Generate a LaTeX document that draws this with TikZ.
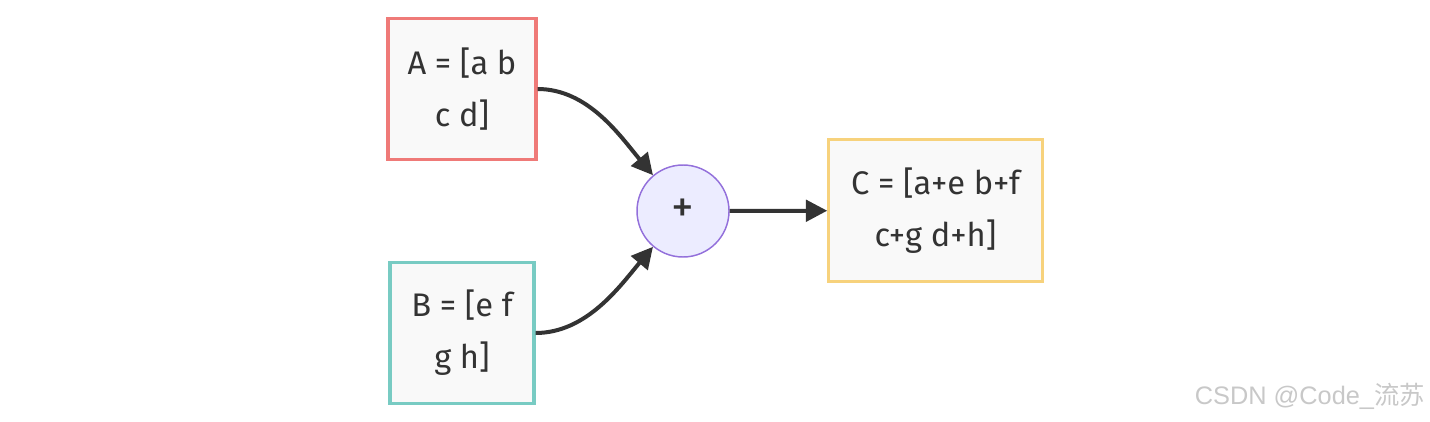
\documentclass[tikz,border=0pt]{standalone}
\usepackage{fontspec}
\setmainfont{Fira Sans}
\newfontfamily\wmfont{Liberation Sans}
\newfontfamily\cjkfont{Noto Sans CJK SC}
\usetikzlibrary{arrows.meta}
\definecolor{boxfill}{HTML}{F9F9F9}
\definecolor{redline}{HTML}{EF7A78}
\definecolor{tealline}{HTML}{78CBC3}
\definecolor{yellowline}{HTML}{F7D27C}
\definecolor{circfill}{HTML}{ECECFF}
\definecolor{circline}{HTML}{9370DB}
\definecolor{edgecol}{HTML}{333333}
\definecolor{wmcol}{HTML}{C8C8C8}
\tikzset{
  matbox/.style={draw, line width=2.4pt, fill=boxfill, inner sep=0pt, align=center,
    font=\fontsize{24.5}{39}\selectfont, text=edgecol},
  opcircle/.style={circle, draw=circline, line width=1.1pt, fill=circfill, minimum size=69pt,
    inner sep=0pt, font=\fontsize{34}{36}\selectfont, text=edgecol},
  edge/.style={draw=edgecol, line width=3pt, -{Triangle[length=16pt,width=16pt]}}
}
\begin{document}
\begin{tikzpicture}[x=0.75pt,y=-0.75pt]
\useasboundingbox (0,0) rectangle (1430,421);
\node[matbox, draw=redline, minimum width=111pt, minimum height=106pt] (A) at (462,89) {A = [a b\\c d]};
\node[matbox, draw=tealline, minimum width=108pt, minimum height=106pt] (B) at (462,333) {B = [e f\\g h]};
\node[opcircle] (P) at (683,211) {+};
\node[matbox, draw=yellowline, minimum width=160pt, minimum height=107pt] (C) at (935.5,210.5) {C = [a+e b+f\\c+g d+h]};
\draw[edge] (A.east) to[out=0, in=130, looseness=0.9] (P);
\draw[edge] (B.east) to[out=0, in=230, looseness=0.9] (P);
\draw[edge] (P) -- (C);
\node[text=wmcol, anchor=east, font=\fontsize{19}{21}\selectfont, inner sep=0pt] (wm) at (1425,396) {\wmfont CSDN @Code\_\cjkfont 流苏};
\end{tikzpicture}
\end{document}
